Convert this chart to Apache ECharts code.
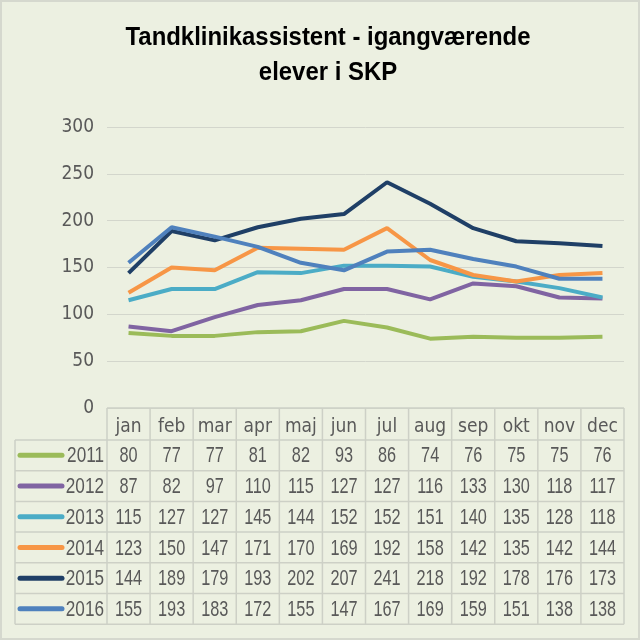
<!DOCTYPE html>
<html><head><meta charset="utf-8">
<script src="https://cdn.jsdelivr.net/npm/echarts@6/dist/echarts.min.js"></script>
<style>html,body{margin:0;padding:0;background:#fff}#c{width:640px;height:640px}</style>
</head><body><div id="c"></div>
<script>
const months = ['jan','feb','mar','apr','maj','jun','jul','aug','sep','okt','nov','dec'];
const years = ['2011','2012','2013','2014','2015','2016'];
const v2011 = [80,77,77,81,82,93,86,74,76,75,75,76];
const v2012 = [87,82,97,110,115,127,127,116,133,130,118,117];
const v2013 = [115,127,127,145,144,152,152,151,140,135,128,118];
const v2014 = [123,150,147,171,170,169,192,158,142,135,142,144];
const v2015 = [144,189,179,193,202,207,241,218,192,178,176,173];
const v2016 = [155,193,183,172,155,147,167,169,159,151,138,138];
const yTicks = [0,50,100,150,200,250,300];
const titleLines = ['Tandklinikassistent - igangværende', 'elever i SKP'];
const rows = [v2011,v2012,v2013,v2014,v2015,v2016];
const colors = ['#9BBB59','#8064A2','#4BACC6','#F79646','#1F3F66','#4F81BD'];
const AXFONT = "'DejaVu Sans Condensed',sans-serif";
const NFONT = "'Liberation Sans',Arial,sans-serif";
const TXT = '#595959';
const LINE = '#CDD0C6';
const SX = 0.74;

const chart = echarts.init(document.getElementById('c'));
chart.setOption({
  backgroundColor: '#ECF0E1',
  animation: false,
  grid: {left: 107, right: 16, top: 127, bottom: 232},
  xAxis: {
    type: 'category', data: months, boundaryGap: true,
    axisLine: {show: false}, axisTick: {show: false},
    axisLabel: {fontFamily: AXFONT, fontSize: 19, color: TXT, margin: 10, interval: 0}
  },
  yAxis: {
    type: 'value', min: yTicks[0], max: yTicks[yTicks.length-1], interval: 50,
    axisLine: {show: false}, axisTick: {show: false},
    splitLine: {lineStyle: {color: '#D3D6CC', width: 1}},
    axisLabel: {fontFamily: AXFONT, fontSize: 19, color: TXT, margin: 13}
  },
  series: rows.map((r, i) => ({
    name: years[i], type: 'line', data: r, symbol: 'none',
    lineStyle: {width: 4, color: colors[i]}, itemStyle: {color: colors[i]}
  }))
});

// measure title to fit reference width
const cv = document.createElement('canvas').getContext('2d');
cv.font = 'bold 25px ' + NFONT;
const tScale = Math.min(1, 405 / cv.measureText(titleLines[0]).width);

const step = chart.convertToPixel({xAxisIndex: 0}, 1) - chart.convertToPixel({xAxisIndex: 0}, 0);
const x0 = chart.convertToPixel({xAxisIndex: 0}, 0) - step / 2;
const x1 = x0 + step * months.length;
const yTop = chart.convertToPixel({yAxisIndex: 0}, 0);
const headerH = 32;
const rowH = 30.7;
const tableLeft = 15;
const g = [];
titleLines.forEach((t, i) => {
  g.push({type: 'text', x: 328, y: 38 + i * 35, scaleX: tScale,
    style: {text: t, fill: '#000', font: 'bold 25px ' + NFONT, align: 'center', verticalAlign: 'middle'}});
});
const ls = {stroke: LINE, lineWidth: 1.5};
g.push({type: 'line', shape: {x1: x0, y1: yTop, x2: x1, y2: yTop}, style: ls});
const yEnd = yTop + headerH + rowH * rows.length;
for (let k = 0; k <= months.length; k++) {
  const x = x0 + step * k;
  g.push({type: 'line', shape: {x1: x, y1: yTop, x2: x, y2: yEnd}, style: ls});
}
for (let r = 0; r <= rows.length; r++) {
  const y = yTop + headerH + rowH * r;
  g.push({type: 'line', shape: {x1: tableLeft, y1: y, x2: x1, y2: y}, style: ls});
}
g.push({type: 'line', shape: {x1: tableLeft, y1: yTop + headerH, x2: tableLeft, y2: yEnd}, style: ls});
rows.forEach((row, r) => {
  const cy = yTop + headerH + rowH * r + rowH / 2;
  g.push({type: 'line', shape: {x1: 20, y1: cy, x2: 62, y2: cy}, style: {stroke: colors[r], lineWidth: 5, lineCap: 'round'}});
  g.push({type: 'text', x: 104, y: cy + 1, scaleX: SX + 0.04,
    style: {text: years[r], fill: TXT, font: '22px ' + NFONT, align: 'right', verticalAlign: 'middle'}});
  row.forEach((v, c) => {
    const cx = chart.convertToPixel({xAxisIndex: 0}, c);
    g.push({type: 'text', x: cx, y: cy + 1, scaleX: SX,
      style: {text: String(v), fill: TXT, font: '22px ' + NFONT, align: 'center', verticalAlign: 'middle'}});
  });
});
g.push({type: 'rect', shape: {x: 1, y: 1, width: 638, height: 638}, style: {fill: 'none', stroke: '#D5D8CE', lineWidth: 2}});
chart.setOption({graphic: g});
</script></body></html>
